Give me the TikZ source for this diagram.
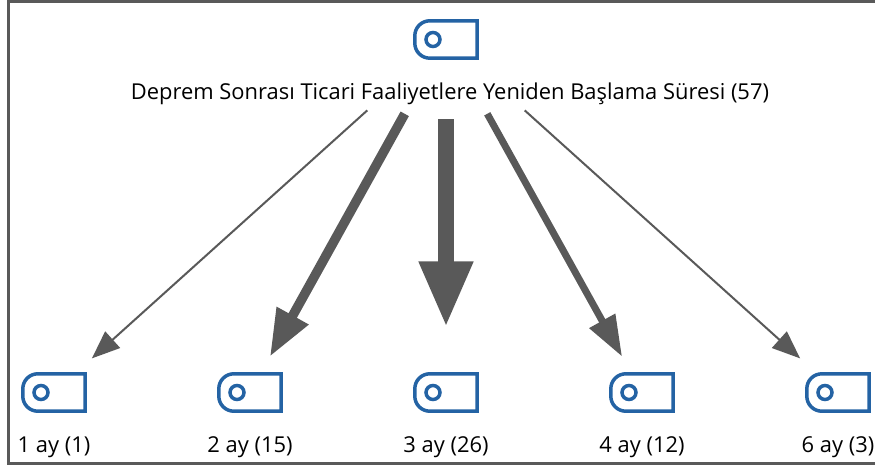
\documentclass[tikz,border=0pt]{standalone}
\usepackage{fontspec}
\setmainfont{Open Sans}
\usetikzlibrary{arrows.meta}
\definecolor{iconblue}{HTML}{2463A4}
\definecolor{flowgray}{HTML}{595959}
\tikzset{
  iconbox/.style = {inner sep = 0pt, minimum width = 62pt, minimum height = 37pt},
  iconline/.style = {draw = iconblue, line width = 3.5pt},
  caption/.style = {font = \fontsize{21.9}{24}\selectfont, text = black, inner sep = 0pt, anchor = base},
  flow/.style = {draw = flowgray, fill = flowgray, line width = #1}
}
\newcommand{\tagicon}[1]{
  \draw[iconline] (#1.north east) [rounded corners = 15pt] -- (#1.north west) -- (#1.south west) [sharp corners] -- (#1.south east) -- cycle;
  \draw[iconline] ([xshift=-13pt]#1.center) circle (7pt);
}
\begin{document}
\begin{tikzpicture}[x=1pt, y=-1pt]
  \useasboundingbox (0,0) rectangle (875,470);
  \draw[flowgray, line width = 3pt] (875,1.5) -- (8.5,1.5) -- (8.5,463) -- (875,463);
  \node[iconbox] (top) at (446,39.5) {};
  \tagicon{top}
  \node[caption] (toplabel) at (450,99.5) {Deprem Sonrası Ticari Faaliyetlere Yeniden Başlama Süresi (57)};
  \foreach \n/\x/\txt in {a/54/1 ay (1), b/250/2 ay (15), c/446/3 ay (26), d/642/4 ay (12), e/838/6 ay (3)}{
    \node[iconbox] (\n) at (\x,392.5) {};
    \tagicon{\n}
    \node[caption] (\n label) at (\x,452) {\txt};
  }
  % thin to thick by count
  \draw[-{Triangle[length=28pt,width=22pt]}, flow=2pt, shorten <=106pt, shorten >=51pt] (top.center) -- (a.center);
  \draw[-{Triangle[length=47pt,width=34pt]}, flow=9.5pt, shorten <=85pt, shorten >=41pt] (top.center) -- (b.center);
  \draw[-{Triangle[length=66pt,width=50pt]}, flow=16pt, shorten <=80pt, shorten >=65pt] (top.center) -- (c.center);
  \draw[-{Triangle[length=41pt,width=28pt]}, flow=7pt, shorten <=85pt, shorten >=41pt] (top.center) -- (d.center);
  \draw[-{Triangle[length=28pt,width=22pt]}, flow=2pt, shorten <=106pt, shorten >=51pt] (top.center) -- (e.center);
\end{tikzpicture}
\end{document}
